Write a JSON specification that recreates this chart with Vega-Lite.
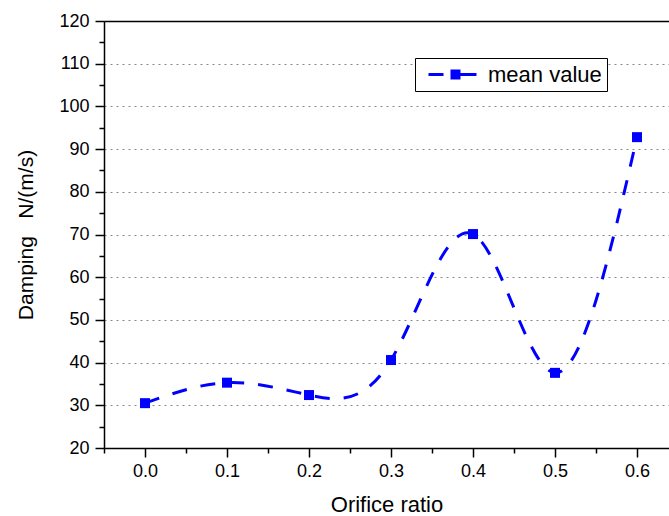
{
  "$schema": "https://vega.github.io/schema/vega-lite/v6.json",
  "autosize": {"type": "none"},
  "padding": {"left": 104, "top": 21, "right": 0, "bottom": 68},
  "width": 565,
  "height": 427,
  "background": "white",
  "config": {
    "view": {"stroke": null},
    "font": "Liberation Sans",
    "axis": {"labelFont": "Liberation Sans", "titleFont": "Liberation Sans", "labelColor": "black", "titleColor": "black", "domainColor": "black", "tickColor": "black", "titleFontWeight": "normal"}
  },
  "data": {"values": [
    {"ratio": 0.0, "damping": 30.5, "series": "mean value"},
    {"ratio": 0.1, "damping": 35.3, "series": "mean value"},
    {"ratio": 0.2, "damping": 32.4, "series": "mean value"},
    {"ratio": 0.3, "damping": 40.6, "series": "mean value"},
    {"ratio": 0.4, "damping": 70.1, "series": "mean value"},
    {"ratio": 0.5, "damping": 37.6, "series": "mean value"},
    {"ratio": 0.6, "damping": 92.8, "series": "mean value"}
  ]},
  "layer": [
    {
      "mark": {"type": "line", "interpolate": "natural", "strokeWidth": 3, "strokeDash": [15, 14], "clip": true},
      "encoding": {
        "x": {"field": "ratio", "type": "quantitative", "scale": {"domain": [-0.05, 0.639], "nice": false, "zero": false},
          "axis": {"orient": "bottom", "values": [0, 0.1, 0.2, 0.3, 0.4, 0.5, 0.6], "format": ".1f", "title": "Orifice ratio", "grid": false, "tickSize": 9, "tickWidth": 1.5, "domainWidth": 1.5, "labelFontSize": 18, "labelPadding": 5, "titleFontSize": 22, "titlePadding": 14, "labelFlush": false}},
        "y": {"field": "damping", "type": "quantitative", "scale": {"domain": [20, 120], "nice": false, "zero": false},
          "axis": {"orient": "left", "values": [20, 30, 40, 50, 60, 70, 80, 90, 100, 110, 120], "title": "Damping\u00a0\u00a0\u00a0N/(m/s)", "grid": true, "gridColor": "#888888", "gridDash": [2, 4], "gridWidth": 1, "tickSize": 9, "tickWidth": 1.5, "domainWidth": 1.5, "labelFontSize": 18, "labelPadding": 6, "titleFontSize": 21, "titlePadding": 22, "labelFlush": false}},
        "color": {"field": "series", "type": "nominal", "scale": {"range": ["#0000FF"]},
          "legend": {"orient": "none", "legendX": 311, "legendY": 37, "title": null, "strokeColor": "black", "fillColor": "white", "padding": 5,
            "symbolType": "M-0.3,0H1.2M2.05,-0.35H2.75V0.35H2.05ZM2.75,0H4.5", "symbolSize": 400, "symbolStrokeWidth": 3, "symbolFillColor": "#0000FF", "symbolStrokeColor": "#0000FF",
            "labelFontSize": 22, "labelFont": "Liberation Sans", "labelColor": "black", "labelOffset": 45}}
      }
    },
    {
      "mark": {"type": "point", "shape": "square", "filled": true, "size": 100, "opacity": 1, "color": "#0000FF"},
      "encoding": {
        "x": {"field": "ratio", "type": "quantitative",
          "axis": {"orient": "top", "title": null, "labels": false, "ticks": false, "grid": false, "domainWidth": 1.5, "domainColor": "black"}},
        "y": {"field": "damping", "type": "quantitative",
          "axis": {"orient": "left", "values": [25, 35, 45, 55, 65, 75, 85, 95, 105, 115], "title": null, "labels": false, "grid": false, "domain": false, "tickSize": 5, "tickWidth": 1.5}}
      }
    },
    {
      "mark": {"type": "point", "opacity": 0},
      "encoding": {
        "x": {"field": "ratio", "type": "quantitative",
          "axis": {"orient": "bottom", "values": [-0.05, 0.05, 0.15, 0.25, 0.35, 0.45, 0.55], "title": null, "labels": false, "grid": false, "domain": false, "tickSize": 5, "tickWidth": 1.5}},
        "y": {"field": "damping", "type": "quantitative", "axis": null}
      }
    }
  ],
  "resolve": {"axis": {"x": "independent", "y": "independent"}}
}
